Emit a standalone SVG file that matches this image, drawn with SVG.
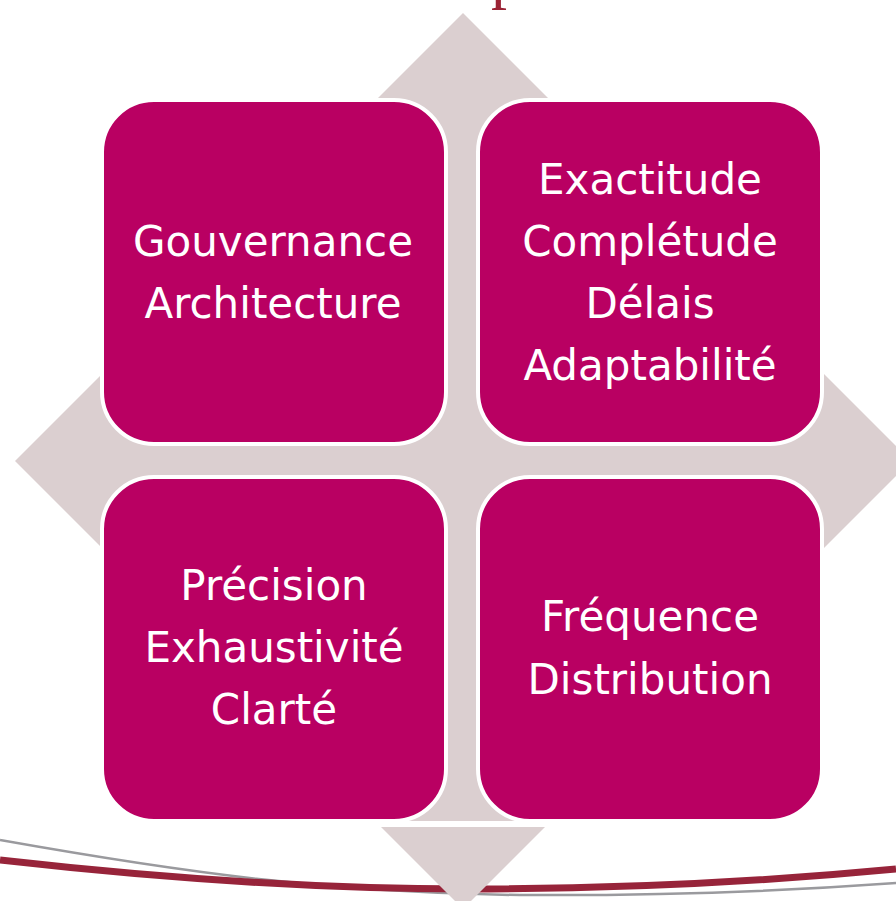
<svg xmlns="http://www.w3.org/2000/svg" width="896" height="901" viewBox="0 0 896 901">
<style>
.box{fill:#B90062;stroke:#FFFFFF;stroke-width:4}
.lbl{font-family:"DejaVu Sans",Verdana,sans-serif;font-size:42px;fill:#FFFFFF;text-anchor:middle}
</style>
<rect x="0" y="0" width="896" height="901" fill="#FFFFFF"/>
<text x="491" y="-4" font-family="Liberation Serif,serif" font-size="64" fill="#9B2335">p</text>
<g id="swoosh">
<path d="M0,840 C180,872 330,893 520,895 C680,896 800,890 896,883" fill="none" stroke="#9A9A9E" stroke-width="2.5"/>
<path d="M0,860 C150,877 320,889 470,889 C620,889 760,882 896,869" fill="none" stroke="#97243A" stroke-width="7"/>
</g>
<g id="background">
<polygon points="463,13 911,461 463,909 15,461" fill="#DBCFD0"/>
<rect x="370" y="821" width="186" height="6" fill="#FFFFFF"/>
</g>
<g id="node-governance">
<rect class="box" x="102" y="100" width="344" height="344" rx="52" ry="52"/>
<text class="lbl" x="273" y="256">Gouvernance</text>
<text class="lbl" x="273" y="318">Architecture</text>
</g>
<g id="node-exactitude">
<rect class="box" x="478" y="100" width="344" height="344" rx="52" ry="52"/>
<text class="lbl" x="650" y="194">Exactitude</text>
<text class="lbl" x="650" y="256">Complétude</text>
<text class="lbl" x="650" y="318">Délais</text>
<text class="lbl" x="650" y="380">Adaptabilité</text>
</g>
<g id="node-precision">
<rect class="box" x="102" y="477" width="344" height="344" rx="52" ry="52"/>
<text class="lbl" x="274" y="600">Précision</text>
<text class="lbl" x="274" y="662">Exhaustivité</text>
<text class="lbl" x="274" y="724">Clarté</text>
</g>
<g id="node-frequence">
<rect class="box" x="478" y="477" width="344" height="344" rx="52" ry="52"/>
<text class="lbl" x="650" y="631">Fréquence</text>
<text class="lbl" x="650" y="694">Distribution</text>
</g>
<g id="connectors"></g>
</svg>
